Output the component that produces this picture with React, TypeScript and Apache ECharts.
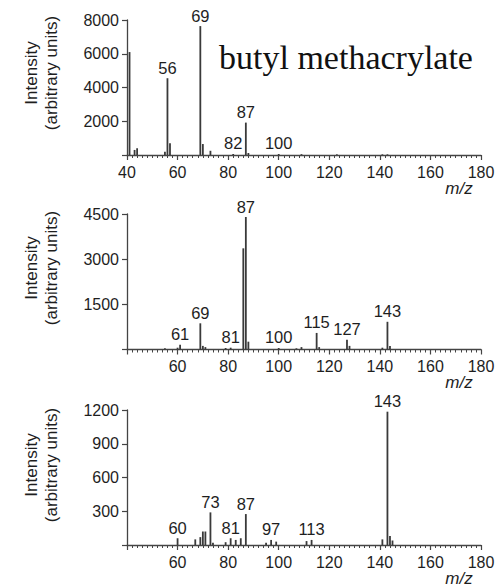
import React, { useEffect, useRef } from "react";
import * as echarts from "echarts";

// ---- data ----
const xTicks = [40, 60, 80, 100, 120, 140, 160, 180];

const mz1 = [41, 43, 44, 55, 56, 57, 69, 70, 73, 82, 87, 88, 100, 109, 123, 141, 143];
const int1 = [6100, 300, 400, 200, 4550, 700, 7640, 650, 250, 60, 1920, 120, 60, 50, 40, 40, 40];
const labels1 = [56, 69, 82, 87, 100];

const mz2 = [55, 60, 61, 69, 70, 71, 79, 81, 86, 87, 88, 100, 107, 109, 115, 116, 127, 128, 141, 143, 144];
const int2 = [40, 60, 160, 870, 120, 80, 50, 60, 3360, 4400, 260, 50, 40, 80, 550, 80, 320, 120, 60, 920, 120];
const labels2 = [61, 69, 81, 87, 100, 115, 127, 143];

const mz3 = [60, 67, 69, 70, 71, 73, 74, 79, 81, 83, 85, 87, 95, 97, 99, 111, 113, 141, 143, 144, 145];
const int3 = [60, 50, 70, 120, 120, 290, 20, 25, 60, 45, 60, 275, 20, 45, 30, 35, 45, 50, 1185, 80, 40];
const labels3 = [60, 73, 81, 87, 97, 113, 143];

const yMax = [8000, 4500, 1200];
const yStep = [2000, 1500, 300];

const titleText = "butyl methacrylate";
const yTitle = "Intensity\n(arbitrary units)";
const xTitle = "m/z";

const FONT = "'Liberation Sans', Arial, Helvetica, sans-serif";
const TEXT = "#1e1e1e";
const AXIS = "#444";

const panels = [
  { mz: mz1, val: int1, labels: labels1 },
  { mz: mz2, val: int2, labels: labels2 },
  { mz: mz3, val: int3, labels: labels3 },
];

const gridTops = [20, 214, 410];
const gridHeights = [135, 135.5, 135];

export default function App() {
  const ref = useRef<HTMLDivElement>(null);

  useEffect(() => {
    if (!ref.current) return;
    const chart = echarts.init(ref.current, undefined, { renderer: "svg" });

    const grid = gridTops.map((t, i) => ({
      left: 127,
      right: 20,
      top: t,
      height: gridHeights[i],
      containLabel: false,
    }));

    const xAxis = panels.map((_, i) => ({
      type: "value",
      gridIndex: i,
      min: xTicks[0],
      max: xTicks[xTicks.length - 1],
      interval: 20,
      axisLine: { show: true, onZero: false, lineStyle: { color: AXIS, width: 1.3 } },
      axisTick: { show: true, length: 5, lineStyle: { color: AXIS, width: 1.2 } },
      minorTick: { show: true, splitNumber: 10, length: 3, lineStyle: { color: AXIS, width: 1 } },
      splitLine: { show: false },
      minorSplitLine: { show: false },
      axisLabel: {
        margin: 9,
        fontSize: 16,
        fontFamily: FONT,
        color: TEXT,
        formatter: (v: number) => (i > 0 && v === 40 ? "" : String(v)),
      },
    }));

    const yAxis = panels.map((_, i) => ({
      type: "value",
      gridIndex: i,
      min: 0,
      max: yMax[i],
      interval: yStep[i],
      axisLine: { show: true, lineStyle: { color: AXIS, width: 1.3 } },
      axisTick: { show: true, length: 5, lineStyle: { color: AXIS, width: 1.2 } },
      splitLine: { show: false },
      axisLabel: {
        margin: 8,
        fontSize: 16,
        fontFamily: FONT,
        color: TEXT,
        formatter: (v: number) => (v === 0 ? "" : String(v)),
      },
    }));

    const series = panels.map((p, i) => ({
      type: "custom",
      xAxisIndex: i,
      yAxisIndex: i,
      data: p.mz.map((m, k) => [m, p.val[k], p.labels.includes(m) ? 1 : 0]),
      renderItem: (_params: any, api: any) => {
        const m = api.value(0);
        const v = api.value(1);
        const hasLabel = api.value(2) === 1;
        const top = api.coord([m, v]);
        const base = api.coord([m, 0]);
        const children: any[] = [
          {
            type: "line",
            shape: { x1: top[0], y1: base[1], x2: top[0], y2: top[1] },
            style: { stroke: "#3a3a3a", lineWidth: 1.8 },
          },
        ];
        if (hasLabel) {
          children.push({
            type: "text",
            style: {
              text: String(m),
              x: top[0],
              y: top[1] - 2,
              textAlign: "center",
              textVerticalAlign: "bottom",
              align: "center",
              verticalAlign: "bottom",
              fill: TEXT,
              fontSize: 16.5,
              fontFamily: FONT,
            },
          });
        }
        return { type: "group", children };
      },
    }));

    const graphic: any[] = [
      {
        type: "text",
        left: 219,
        top: 40,
        style: {
          text: titleText,
          fill: "#111",
          fontSize: 34,
          fontFamily: "'Liberation Serif', 'Times New Roman', serif",
        },
      },
    ];
    const yTitleCenters = [73, 268, 465];
    yTitleCenters.forEach((cy) => {
      graphic.push({
        type: "text",
        x: 41,
        y: cy,
        rotation: Math.PI / 2,
        style: {
          text: yTitle,
          fill: TEXT,
          fontSize: 17,
          lineHeight: 20,
          fontFamily: FONT,
          align: "center",
          verticalAlign: "middle",
          textAlign: "center",
          textVerticalAlign: "middle",
        },
      });
    });
    gridTops.forEach((t, i) => {
      graphic.push({
        type: "text",
        x: 459,
        y: t + gridHeights[i] + 33,
        style: {
          text: xTitle,
          fill: TEXT,
          fontSize: 17,
          fontStyle: "italic",
          fontFamily: FONT,
          align: "center",
          verticalAlign: "middle",
          textAlign: "center",
          textVerticalAlign: "middle",
        },
      });
    });

    chart.setOption({
      animation: false,
      backgroundColor: "#ffffff",
      grid,
      xAxis,
      yAxis,
      series,
      graphic,
    } as any);

    return () => chart.dispose();
  }, []);

  return (
    <div
      ref={ref}
      style={{ position: "fixed", left: 0, top: 0, width: 501, height: 588, background: "#fff" }}
    />
  );
}
